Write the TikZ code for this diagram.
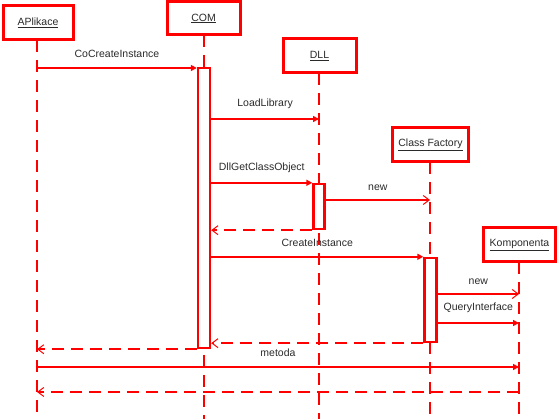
\documentclass[tikz,border=0pt]{standalone}
\usepackage{fontspec}
\setmainfont{Liberation Sans}
\usetikzlibrary{arrows.meta}
\definecolor{lred}{HTML}{FF0000}
\definecolor{txt}{HTML}{2A2A2A}
\begin{document}
\begin{tikzpicture}[x=1pt,y=-1pt,
  font=\fontsize{10.5}{12}\selectfont,
  objbox/.style={draw=lred,line width=3pt,fill=white,inner sep=0pt,text=txt},
  lifeline/.style={draw=lred,line width=2.6pt,dash pattern=on 12pt off 8pt},
  actbar/.style={draw=lred,line width=2.4pt,fill=white},
  msg/.style={draw=lred,line width=1.8pt,-{Triangle[length=6pt,width=6pt]}},
  newmsg/.style={draw=lred,line width=1.5pt,-{Straight Barb[length=6pt,width=9pt,line width=1pt]}},
  retmsg/.style={draw=lred,line width=1.8pt,dash pattern=on 12pt off 7pt,-{Straight Barb[length=6pt,width=9pt,line width=1pt]}},
  lbl/.style={text=txt,inner sep=0pt}]
\useasboundingbox (0,0) rectangle (557,419);
% lifelines
\draw[lifeline] (37,40) -- (37,419);
\draw[lifeline] (204,35) -- (204,419);
\draw[lifeline] (319,73) -- (319,419);
\draw[lifeline] (430,162) -- (430,419);
\draw[lifeline] (519,262) -- (519,419);
% boxes
\node[objbox,minimum width=70pt,minimum height=34pt] (apl) at (38,22.5) {\underline{APlikace}};
\node[objbox,minimum width=73pt,minimum height=33pt] (com) at (203.5,18.5) {\underline{COM}};
\node[objbox,minimum width=73pt,minimum height=34pt] (dll) at (319.5,56) {\underline{DLL}};
\node[objbox,minimum width=76pt,minimum height=34pt] (cf) at (430.5,145) {\underline{Class Factory}};
\node[objbox,minimum width=72pt,minimum height=34pt] (kom) at (519.5,245) {\underline{Komponenta}};
% activation bars
\node[actbar,minimum width=12pt,minimum height=280pt,inner sep=0pt] (acom) at (204,208) {};
\node[actbar,minimum width=11pt,minimum height=45pt,inner sep=0pt] (adll) at (319,206.5) {};
\node[actbar,minimum width=12pt,minimum height=84pt,inner sep=0pt] (acf) at (430.5,300) {};
% anchor coordinates
\coordinate (aplA) at (37,68);
\coordinate (dllA) at (319,119);
\coordinate (cfA) at (430,200);
\coordinate (komA) at (519,294);
\coordinate (komB) at (519,323);
\coordinate (aplC) at (37,367);
\coordinate (komC) at (519,367);
\coordinate (komD) at (519,392);
\coordinate (aplD) at (37,392);
% messages
\draw[msg] (aplA) -- (acom.north west |- aplA) node[lbl,midway,above=9pt] {CoCreateInstance};
\draw[msg] (acom.east |- dllA) -- (dllA) node[lbl,midway,above=9pt] {LoadLibrary};
\draw[msg] (acom.east |- adll.north west) -- (adll.north west) node[lbl,midway,above=9pt] {DllGetClassObject};
\draw[retmsg] (adll.south west) -- (acom.east |- adll.south west);
\draw[newmsg] (adll.east |- cfA) -- (cfA) node[lbl,midway,above=9pt] {new};
\draw[msg] (acom.east |- acf.north west) -- (acf.north west) node[lbl,midway,above=9pt] {CreateInstance};
\draw[newmsg] (acf.east |- komA) -- (komA) node[lbl,midway,above=9pt] {new};
\draw[msg] (acf.east |- komB) -- (komB) node[lbl,midway,above=9pt] {QueryInterface};
\draw[retmsg] (acf.south west) -- (acom.east |- acf.south west);
\draw[retmsg] (acom.south west) -- (aplA |- acom.south west);
\draw[msg] (aplC) -- (komC) node[lbl,midway,above=9pt] {metoda};
\draw[retmsg] (komD) -- (aplD);
\end{tikzpicture}
\end{document}
